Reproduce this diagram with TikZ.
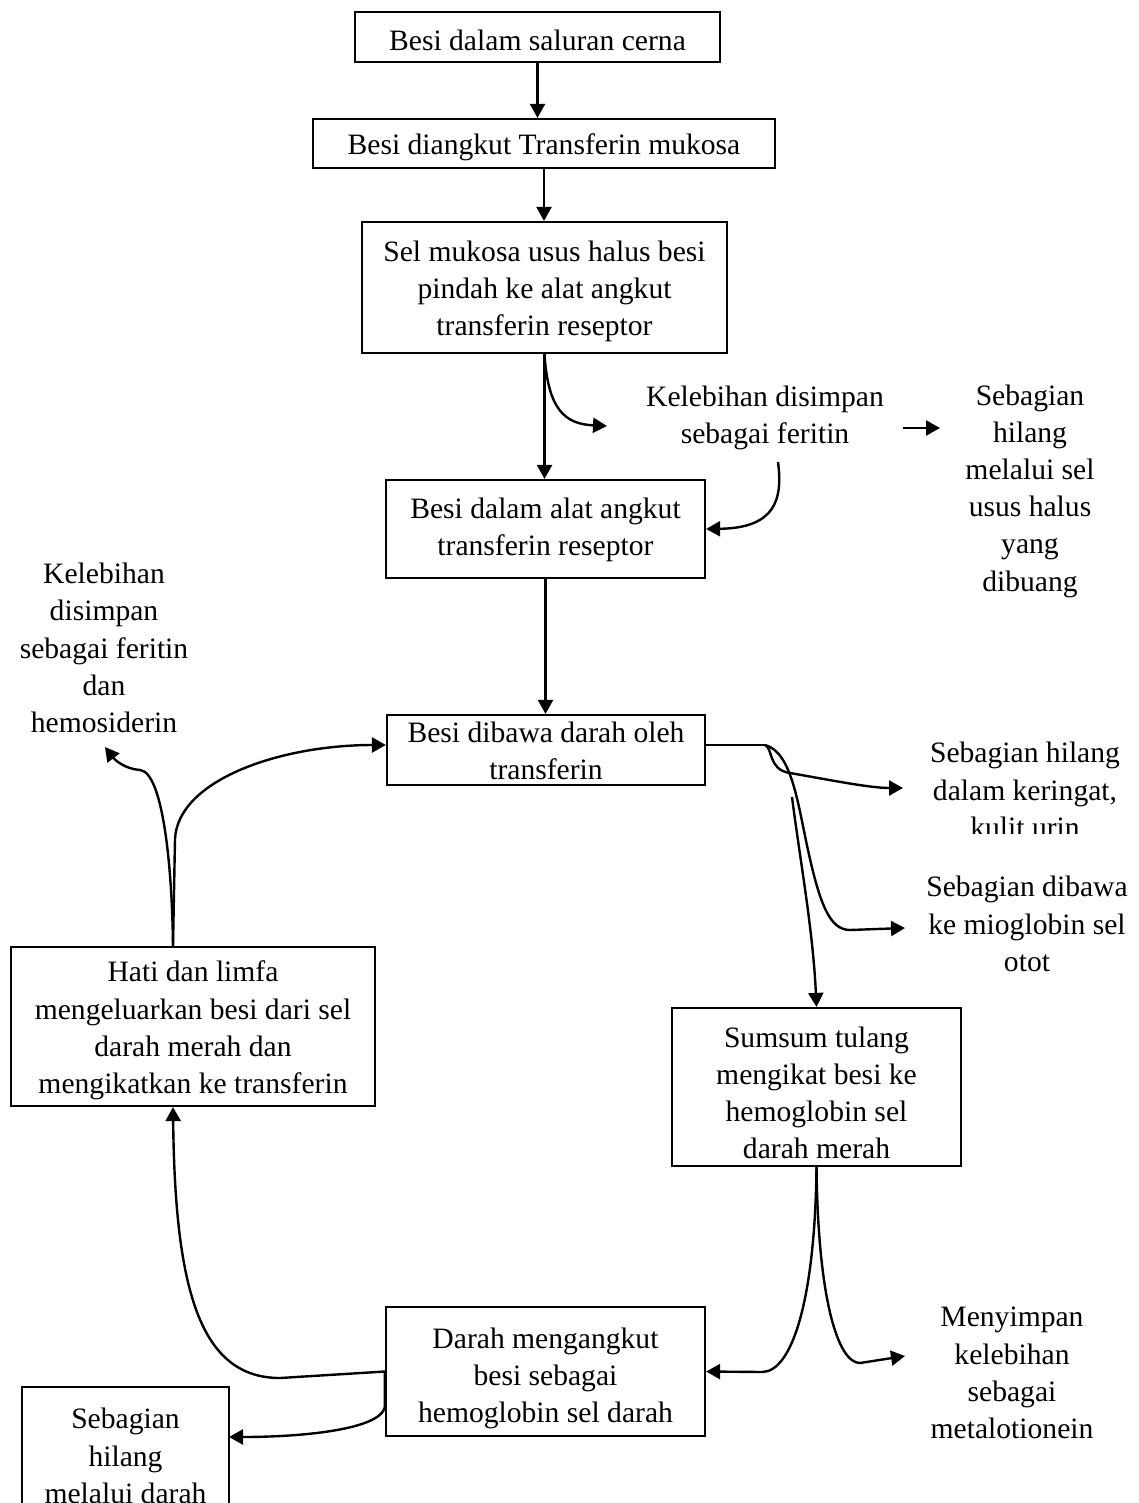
\documentclass[tikz,border=0pt]{standalone}
\usepackage{fontspec}
\setmainfont{Liberation Serif}
\usetikzlibrary{arrows.meta,calc}
\begin{document}
\begin{tikzpicture}[x=0.5pt,y=-0.5pt,
  txt/.style={align=center,inner sep=0pt,font=\fontsize{14.8pt}{18.6pt}\selectfont},
  box/.style={draw,line width=1.1pt,inner sep=0pt},
  link/.style={line width=1.2pt},
  arr/.style={line width=1.2pt,-{Triangle[length=7pt,width=7.5pt]}}]
\useasboundingbox (0,0) rectangle (1139,1503);
\fill[white] (0,0) rectangle (1139,1503);

% boxes of the main chain, with their texts set a little below centre
\node[box,minimum width=182.5pt,minimum height=25pt] (b1) at (537.5,37) {};
\node[txt] (b1t) at ($(b1)+(0,3)$) {Besi dalam saluran cerna};
\node[box,minimum width=231pt,minimum height=24.5pt] (b2) at (544,143.5) {};
\node[txt] (b2t) at ($(b2)+(0,4)$) {Besi diangkut Transferin mukosa};
\node[box,minimum width=182.5pt,minimum height=65.5pt] (b3) at (544.5,287.5) {};
\node[txt] (b3t) at ($(b3)+(0,4)$) {Sel mukosa usus halus besi\\pindah ke alat angkut\\transferin reseptor};
\node[box,minimum width=159.5pt,minimum height=49pt] (b4) at (545.5,529) {};
\node[txt] (b4t) at ($(b4)+(0,1)$) {Besi dalam alat angkut\\transferin reseptor};
\node[box,minimum width=159pt,minimum height=35pt] (b5) at (546,750) {};
\begin{scope}
  \clip (389,717) rectangle (703,780);
  \node[txt] (b5t) at (546,751) {Besi dibawa darah oleh\\transferin};
\end{scope}
\node[box,minimum width=182pt,minimum height=79.5pt] (b6) at (193,1026.5) {};
\node[txt] (b6t) at ($(b6)+(0,4)$) {Hati dan limfa\\mengeluarkan besi dari sel\\darah merah dan\\mengikatkan ke transferin};
\node[box,minimum width=144.5pt,minimum height=79pt] (b7) at (816.5,1087) {};
\node[txt] (b7t) at ($(b7)+(0,6)$) {Sumsum tulang\\mengikat besi ke\\hemoglobin sel\\darah merah};
\node[box,minimum width=159.5pt,minimum height=64.5pt] (b8) at (545.5,1371.5) {};
\node[txt] (b8t) at ($(b8)+(0,7)$) {Darah mengangkut\\besi sebagai\\hemoglobin sel darah};
\node[box,minimum width=103.5pt,minimum height=75pt] (b9) at (125.5,1462) {};
\node[txt] (b9t) at (125.5,1456) {Sebagian\\hilang\\melalui darah};

% free labels
\node[txt] (t1) at (765,418) {Kelebihan disimpan\\sebagai feritin};
\node[txt] (t2) at (1030,491) {Sebagian\\hilang\\melalui sel\\usus halus\\yang\\dibuang};
\node[txt] (t3) at (104,648) {Kelebihan\\disimpan\\sebagai feritin\\dan\\hemosiderin};
\begin{scope}
  \clip (900,700) rectangle (1139,833);
  \node[txt] (t4) at (1025,790) {Sebagian hilang\\dalam keringat,\\kulit urin};
\end{scope}
\node[txt] (t5) at (1027,924) {Sebagian dibawa\\ke mioglobin sel\\otot};
\node[txt] (t6) at (1012,1373) {Menyimpan\\kelebihan\\sebagai\\metalotionein};

% connector end points
\coordinate (p1) at (607,426);
\coordinate (c1) at (778,462);
\coordinate (q1) at (903,428);
\coordinate (q2) at (940,428);
\coordinate (k) at (765,745);
\coordinate (k2) at (792,797);
\coordinate (e1) at (903,788);
\coordinate (e2) at (905,928);
\coordinate (h) at ($(b6.north)+(-20,0)$);
\coordinate (h2) at (105,747);
\coordinate (hb) at ($(b6.south)+(-20,0)$);
\coordinate (d1) at (229,1437);
\coordinate (m1) at (905,1356);

% straight links
\draw[arr] (b1.south) -- (b1.south |- b2.north);
\draw[arr] (b2.south) -- (b2.south |- b3.north);
\draw[arr] (b3.south) -- (b3.south |- b4.north);
\draw[arr] (b4.south) -- (b4.south |- b5.north);
\draw[arr] (q1) -- (q2);

% excess stored as ferritin
\draw[arr] (b3.south) .. controls (548,410) and (565,424) .. (p1);
\draw[arr] (c1) .. controls (783,500) and (775,528) .. (b4.east);

% branches from the transferin box
\draw[link] (b5.east |- k) -- (k);
\draw[arr] (k) .. controls (773,748) and (768,770) .. (790,773)
  .. controls (830,780) and (870,788) .. (e1);
\draw[arr] (k) .. controls (792,752) and (798,805) .. (808,850)
  .. controls (820,905) and (830,930) .. (850,930) -- (e2);
\draw[arr] (k2) .. controls (800,860) and (813,930) .. (b7.north);

% liver and spleen back to transferin
\draw[arr] (h) .. controls (172,860) and (162,772) .. (140,770)
  .. controls (125,769) and (115,760) .. (h2);
\draw[arr] (h) -- ++(2,-107) .. controls (178,780) and (280,745) .. (b5.west |- 0,745);

% bone marrow outputs
\draw[arr] (b7.south) .. controls (815,1300) and (792,1372) .. (762,1372) -- (b8.east);
\draw[arr] (b7.south) .. controls (818,1300) and (838,1363) .. (860,1363) -- (m1);

% blood outputs
\draw[arr] (b8.west) -- (280,1378) .. controls (200,1378) and (175,1290) .. (hb);
\draw[arr] (b8.west) -- (b8.west |- 0,1407) .. controls (380,1430) and (300,1437) .. (d1);
\end{tikzpicture}
\end{document}
